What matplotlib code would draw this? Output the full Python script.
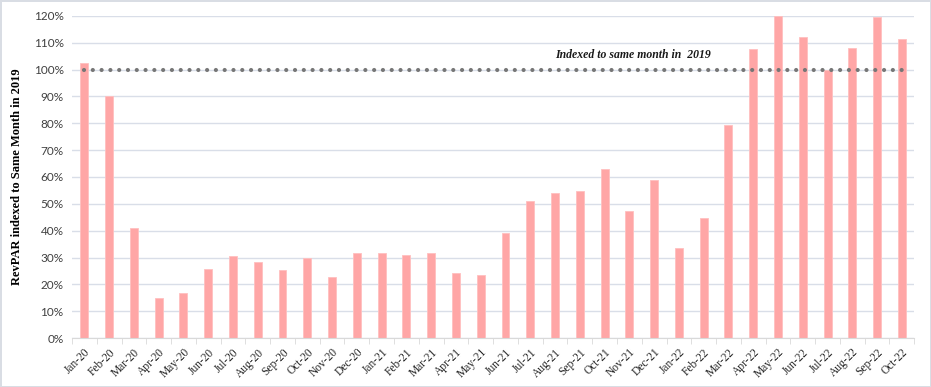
import matplotlib.pyplot as plt
from matplotlib.ticker import PercentFormatter, FixedLocator
import numpy as np

months = ['Jan-20', 'Feb-20', 'Mar-20', 'Apr-20', 'May-20', 'Jun-20', 'Jul-20', 'Aug-20',
          'Sep-20', 'Oct-20', 'Nov-20', 'Dec-20', 'Jan-21', 'Feb-21', 'Mar-21', 'Apr-21',
          'May-21', 'Jun-21', 'Jul-21', 'Aug-21', 'Sep-21', 'Oct-21', 'Nov-21', 'Dec-21',
          'Jan-22', 'Feb-22', 'Mar-22', 'Apr-22', 'May-22', 'Jun-22', 'Jul-22', 'Aug-22',
          'Sep-22', 'Oct-22']
revpar_index = [102.5, 90.0, 41.0, 15.0, 16.7, 25.7, 30.5, 28.2,
                25.2, 29.7, 22.7, 31.8, 31.8, 31.0, 31.5, 24.2,
                23.6, 39.3, 51.2, 53.9, 54.9, 63.0, 47.5, 58.7,
                33.5, 44.6, 79.5, 107.8, 120.0, 112.1, 99.9, 108.0,
                119.6, 111.3]
baseline = 100

fig = plt.figure(figsize=(9.31, 3.87), dpi=100)
fig.patch.set_edgecolor('#D9DDE4')
fig.patch.set_linewidth(2)
ax = fig.add_axes([0.0773, 0.1266, 0.9047, 0.8321])

x = np.arange(len(months))
ax.bar(x, revpar_index, width=0.32, color='#FFA6A6', edgecolor='#FFC0C0', linewidth=0.6, zorder=2)

# dotted 2019 reference line
ax.plot([x[0], x[-1]], [baseline, baseline], linestyle=(0, (0.01, 2.1)), dash_capstyle='round',
        color='#767676', linewidth=3.0, zorder=3)
ax.text(19.0, 103.2, 'Indexed to same month in  2019', fontsize=8.5, fontstyle='italic',
        fontweight='bold', family='Liberation Serif', color='#1a1a1a', va='bottom', ha='left')

ax.set_xlim(-0.5, len(months) - 0.5)
ax.set_ylim(0, 120)
ax.yaxis.set_major_locator(FixedLocator(np.arange(0, 121, 10)))
ax.yaxis.set_major_formatter(PercentFormatter(decimals=0))
ax.grid(axis='y', color='#D9DEE8', linewidth=1, zorder=0)
ax.set_axisbelow(True)

ax.set_xticks(x)
ax.set_xticklabels(months, rotation=45, ha='right', rotation_mode='anchor',
                   fontsize=8.3, family='Liberation Serif', color='#262626')
ax.set_xticks(np.arange(-0.5, len(months)), minor=True)
ax.tick_params(axis='x', which='major', length=0, pad=6)
ax.tick_params(axis='x', which='minor', length=4, color='#D9D9D9')
ax.tick_params(axis='y', length=0, labelsize=8.5, labelcolor='#404040', pad=6)
for lbl in ax.get_yticklabels():
    lbl.set_family('Lato')

for side in ['top', 'right', 'left']:
    ax.spines[side].set_visible(False)
ax.spines['bottom'].set_color('#D9D9D9')

ax.set_ylabel('RevPAR indexed to Same Month in 2019', fontsize=9, fontweight='bold',
              family='Liberation Serif', labelpad=8)

fig.savefig('out.png', dpi=100, edgecolor=fig.get_edgecolor())
